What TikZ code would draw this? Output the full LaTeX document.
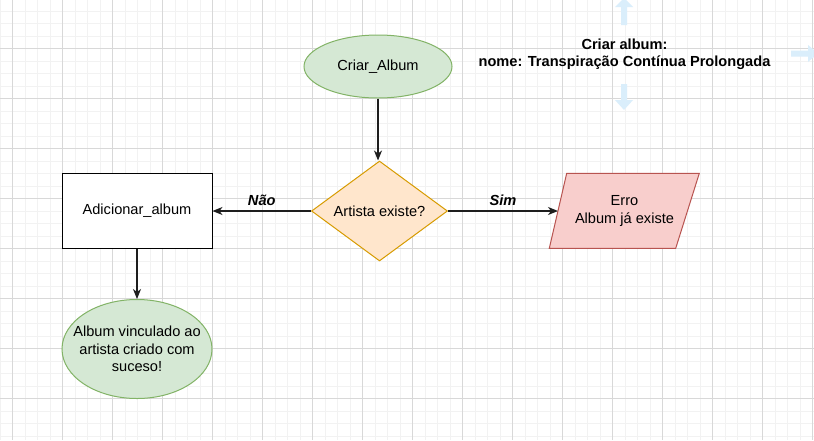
\documentclass[tikz,border=0pt]{standalone}
\usepackage{fontspec}
\setmainfont{Liberation Sans}
\usetikzlibrary{shapes.geometric,arrows.meta}
\definecolor{gridminor}{RGB}{242,242,242}
\definecolor{gridmajor}{RGB}{216,216,216}
\definecolor{greenfill}{HTML}{D5E8D4}
\definecolor{greenline}{HTML}{82B366}
\definecolor{orangefill}{HTML}{FFE6CC}
\definecolor{orangeline}{HTML}{D79B00}
\definecolor{redfill}{HTML}{F8CECC}
\definecolor{redline}{HTML}{B85450}
\definecolor{hintblue}{RGB}{218,238,251}
\definecolor{edgecol}{RGB}{30,30,30}
\tikzset{
  txt/.style={font=\fontsize{14.6}{17.5}\selectfont, align=center, inner sep=0pt},
  termbox/.style={ellipse, draw=greenline, fill=greenfill, line width=1pt, inner sep=0pt},
  decbox/.style={diamond, draw=orangeline, fill=orangefill, line width=1pt, inner sep=0pt, aspect=1.36, font=\fontsize{14.6}{17.5}\selectfont},
  procbox/.style={rectangle, draw=black, fill=white, line width=1pt, inner sep=0pt, font=\fontsize{14.6}{17.5}\selectfont},
  conn/.style={draw=edgecol, line width=1.2pt, -{Stealth[length=10pt,width=8pt,inset=3pt]}},
  elabel/.style={font=\fontsize{14.6}{17}\selectfont\bfseries\itshape, inner sep=0pt},
  hint/.style={fill=hintblue, draw=none}
}
\begin{document}
\begin{tikzpicture}[x=1pt,y=-1pt]
\useasboundingbox (0,0) rectangle (814,440);
\fill[white] (0,0) rectangle (814,440);
% grid
\foreach \i in {0,...,66} {
  \draw[gridminor, line width=0.8pt] ({12.5*\i},0) -- ({12.5*\i},440);
}
\foreach \j in {0,...,35} {
  \draw[gridminor, line width=0.8pt] (0,{-1.5+12.5*\j}) -- (814,{-1.5+12.5*\j});
}
\foreach \i in {0,...,16} {
  \draw[gridmajor, line width=0.8pt] ({12.5+50*\i},0) -- ({12.5+50*\i},440);
}
\foreach \j in {0,...,9} {
  \draw[gridmajor, line width=0.8pt] (0,{48.5+50*\j}) -- (814,{48.5+50*\j});
}
% hint arrows
\fill[hint] (621,25) -- (621,7) -- (615,7) -- (624,-2) -- (633,7) -- (627,7) -- (627,25) -- cycle;
\fill[hint] (621,84) -- (621,100) -- (615,100) -- (624,110) -- (633,100) -- (627,100) -- (627,84) -- cycle;
\fill[hint] (791,50.5) -- (808,50.5) -- (808,45) -- (818,53.5) -- (808,62) -- (808,56.5) -- (791,56.5) -- cycle;

% nodes
\node[termbox, minimum width=148pt, minimum height=63pt] (start) at (378,66.5) {};
\node[txt] at (start) {Criar\_Album};

\node[decbox, minimum width=136pt, minimum height=100pt] (dec) at (379.5,211) {Artista existe?};

\node[procbox, minimum width=150pt, minimum height=75pt] (add) at (137,211) {Adicionar\_album};

\node[termbox, minimum width=150pt, minimum height=99pt] (done) at (137,349) {};
\node[txt] at (done) {Album vinculado ao\\artista criado com\\suceso!};

\filldraw[fill=redfill, draw=redline, line width=1pt] (566.7,173.3) -- (699.3,173.3) -- (675.7,248.3) -- (549.3,248.3) -- cycle;
\coordinate (errL) at (558,211);
\node[txt] (err) at (624.5,211) {Erro\\Album já existe};

\node[txt, font=\fontsize{14.6}{17}\selectfont\bfseries] (note) at (624.5,54.5) {Criar album:\\nome: Transpiração Contínua Prolongada};

% connectors
\draw[conn] (start.south) -- (dec.north -| start.south);
\draw[conn] (dec.west) -- (add.east) node[elabel, midway, above=5pt] {Não};
\draw[conn] (dec.east) -- (errL) node[elabel, midway, above=5pt] {Sim};
\draw[conn] (add.south) -- (done.north);
\end{tikzpicture}
\end{document}
